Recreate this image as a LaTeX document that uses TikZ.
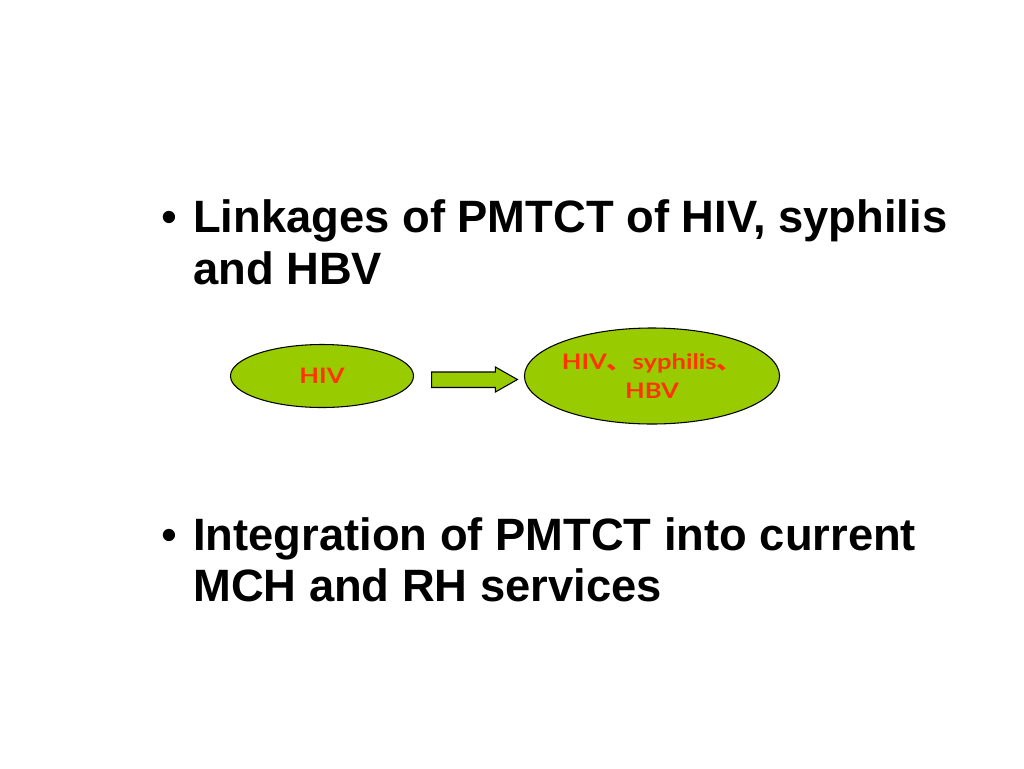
\documentclass[tikz,border=0pt]{standalone}
\usepackage{fontspec}
\setmainfont{Liberation Sans}
\newfontfamily\ellfont[FakeStretch=1.2]{Lato}
\newfontfamily\cjk[FakeStretch=1.2]{Noto Sans CJK SC}
\usetikzlibrary{shapes.geometric,calc}
\definecolor{ellgreen}{HTML}{99CC00}
\definecolor{elltext}{HTML}{FF3300}
\tikzset{
  bullettext/.style={anchor=base west, inner sep=0pt, font=\fontsize{34}{40}\selectfont\bfseries, text=black},
  bulletdot/.style={anchor=base west, inner sep=0pt, font=\fontsize{34}{40}\selectfont, text=black},
  ellnode/.style={draw=black, line width=0.8pt, fill=ellgreen, ellipse, inner sep=0pt, text=elltext, font=\fontsize{16}{21.75}\selectfont\ellfont\bfseries, align=center},
  fatarrow/.style={draw=black, line width=0.8pt, fill=ellgreen, line join=miter}
}
\begin{document}
\begin{tikzpicture}[x=0.75pt,y=-0.75pt]
\useasboundingbox[fill=white] (0,0) rectangle (1024,768);
% first bullet
\node[bulletdot] (b1) at (161,232) {•};
\node[bullettext] (t1a) at (193,232) {Linkages of PMTCT of HIV, syphilis};
\node[bullettext] (t1b) at (193,284) {and HBV};
% ellipses
\node[ellnode, minimum width=183*0.75pt, minimum height=63*0.75pt] (e1) at (322,376) {HIV};
\node[ellnode, minimum width=251*0.75pt, minimum height=96*0.75pt] (e2) at (652,376) {HIV{\cjk 、}syphilis{\cjk 、}\\HBV};
% block arrow from e1 to e2
\coordinate (aS) at ($(e1.east)+(17.5,0)$);
\coordinate (aT) at ($(e2.west)+(-6.5,0)$);
\draw[fatarrow] ($(aS)+(0,-4)$) -- ($(aT)+(-22,-4)$) -- ($(aT)+(-22,-9)$) -- ($(aT)+(0,3.5)$) -- ($(aT)+(-22,16)$) -- ($(aT)+(-22,11.5)$) -- ($(aS)+(0,11.5)$) -- cycle;
% second bullet
\node[bulletdot] (b2) at (161,550) {•};
\node[bullettext] (t2a) at (193,550) {Integration of PMTCT into current};
\node[bullettext] (t2b) at (193,601) {MCH and RH services};
\end{tikzpicture}
\end{document}
